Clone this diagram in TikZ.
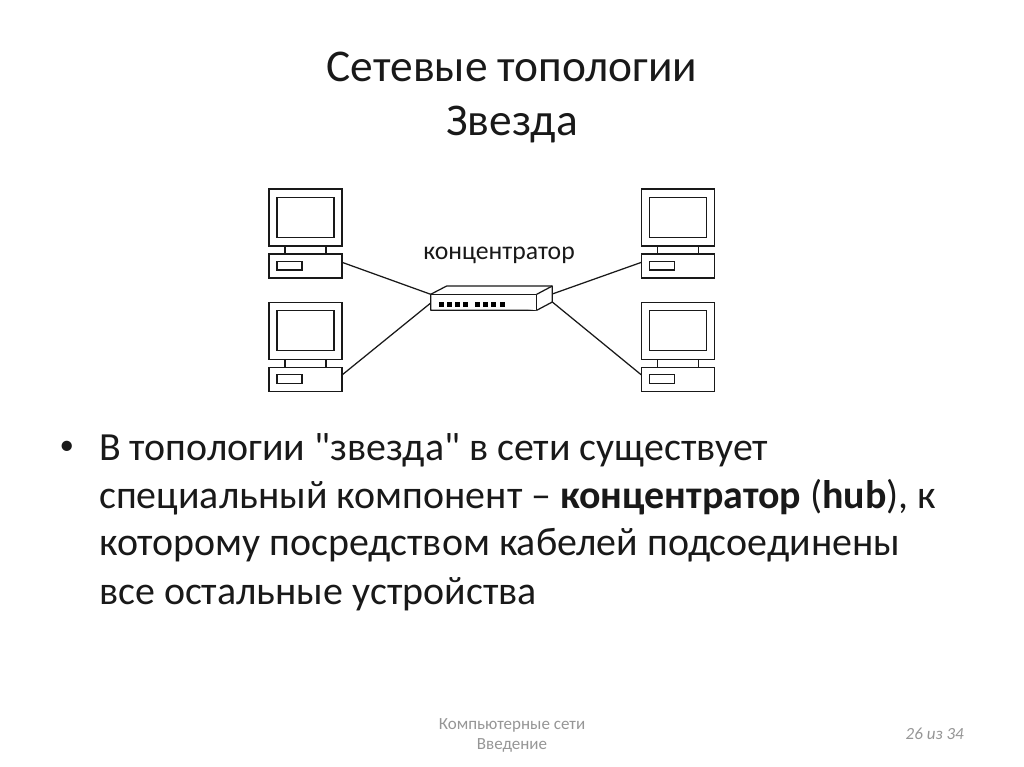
\documentclass[tikz,border=0pt]{standalone}
\usepackage{fontspec}
\newfontfamily\cfont{Carlito}
\definecolor{footgray}{RGB}{150,150,150}
\definecolor{ink}{RGB}{25,25,25}
\tikzset{
  part/.style={draw=ink,line width=1.25pt,fill=white,inner sep=0pt,outer sep=0pt,rectangle},
  cable/.style={draw=ink,line width=1.25pt},
  titletext/.style={anchor=base,inner sep=0pt,font=\cfont\fontsize{45.4}{50}\selectfont,text=ink},
  bodytext/.style={anchor=base west,inner sep=0pt,font=\cfont\fontsize{39.9}{46}\selectfont,text=ink},
  bullettext/.style={anchor=base west,inner sep=0pt,font=\cfont\fontsize{29}{34}\selectfont,text=ink},
  foottext/.style={anchor=base,inner sep=0pt,font=\cfont\fontsize{17}{20}\selectfont,text=footgray},
  hublabel/.style={anchor=base,inner sep=0pt,font=\cfont\fontsize{25.7}{30}\selectfont,text=ink},
  portdot/.style={fill=black,inner sep=0pt,minimum width=5pt,minimum height=5pt,rectangle}
}
\newcommand{\pcunit}[3]{%
  \node[part,minimum width=41pt,minimum height=8pt] (#1neck) at (#2+36.5,#3+61) {};
  \node[part,minimum width=73pt,minimum height=57pt] (#1mon) at (#2+36.5,#3+28.5) {};
  \node[part,minimum width=57pt,minimum height=40pt] (#1scr) at (#2+36.5,#3+28.5) {};
  \node[part,minimum width=73pt,minimum height=24pt] (#1box) at (#2+36.5,#3+77) {};
  \node[part,minimum width=25pt,minimum height=8.5pt] (#1slot) at (#2+20.5,#3+76.7) {};
}
\begin{document}
\begin{tikzpicture}[x=1pt,y=-1pt]
\useasboundingbox (0,0) rectangle (1024,767);
\fill[white] (0,0) rectangle (1024,767);
\node[titletext] (t1) at (512,81.5) {Сетевые топологии};
\node[titletext] (t2) at (512,136) {Звезда};
\pcunit{a}{269}{189}
\pcunit{b}{269}{302.3}
\pcunit{c}{641.5}{189}
\pcunit{d}{641.5}{302.3}
\node[hublabel] (hl) at (499,259) {концентратор};
\coordinate (hfl) at (430.7,294.3);
\coordinate (hfll) at (430.7,310.3);
\coordinate (hfr) at (536.7,294.3);
\coordinate (hfrl) at (536.7,310.3);
\coordinate (hbl) at (446.7,286);
\coordinate (hbr) at (552.3,286);
\coordinate (hrl) at (552.3,302);
\coordinate (hrm) at (552.3,294);
\coordinate (hlm) at (430.7,303);
\coordinate (pa) at (342,262.3);
\coordinate (pb) at (342,375);
\coordinate (pc) at (641.5,262.3);
\coordinate (pd) at (641.5,375);
\draw[cable] (pa) -- (hfl);
\draw[cable] (pb) -- (hlm);
\draw[cable] (pc) -- (hrm);
\draw[cable] (pd) -- (hrl);
\draw[part,line join=round] (hfl) -- (hbl) -- (hbr) -- (hrl) -- (hfrl) -- (hfll) -- cycle;
\draw[part] (hfl) -- (hfr) -- (hfrl);
\draw[part] (hfr) -- (hbr);
\foreach \px in {441,449.2,457.4,465.6,477.5,485.7,493.9,502.1}
  \node[portdot] at (\px,304.5) {};
\node[bullettext] (bu) at (59.5,454) {•};
\node[bodytext] (l1) at (99,460) {В топологии "звезда" в сети существует};
\node[bodytext] (l2) at (99,508) {специальный компонент – \textbf{концентратор} (\textbf{hub}), к};
\node[bodytext] (l3) at (99,555) {которому посредством кабелей подсоединены};
\node[bodytext] (l4) at (99,604) {все остальные устройства};
\node[foottext] (f1) at (512,729) {Компьютерные сети};
\node[foottext] (f2) at (512,749) {Введение};
\node[foottext,anchor=base east] (pg) at (964,739) {\itshape 26 из 34};
\end{tikzpicture}
\end{document}
